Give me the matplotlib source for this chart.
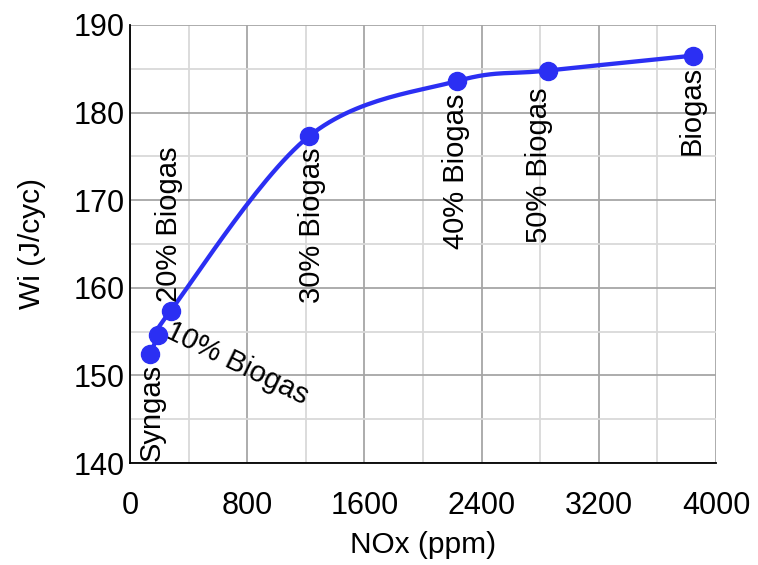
import numpy as np
import matplotlib
matplotlib.use("Agg")
import matplotlib.pyplot as plt
from matplotlib.ticker import MultipleLocator

plt.rcParams['font.family'] = ['Liberation Sans', 'DejaVu Sans']

# Data
labels = ["Syngas", "10% Biogas", "20% Biogas", "30% Biogas", "40% Biogas", "50% Biogas", "Biogas"]
nox = [137, 193, 278, 1222, 2232, 2853, 3843]
wi = [152.4, 154.6, 157.4, 177.3, 183.6, 184.8, 186.5]
x_ticks = [0, 800, 1600, 2400, 3200, 4000]
y_ticks = [140, 150, 160, 170, 180, 190]

color = '#2B2FF3'

def smooth(xs, ys, n=30):
    P = np.column_stack([xs, ys]).astype(float)
    sx, sy = 0.1465, 8.76
    Q = P * [sx, sy]
    pts = []
    for i in range(len(Q) - 1):
        p0 = Q[max(i - 1, 0)]
        p1 = Q[i]
        p2 = Q[i + 1]
        p3 = Q[min(i + 2, len(Q) - 1)]
        c1 = p1 + (p2 - p0) / 6.0
        c2 = p2 - (p3 - p1) / 6.0
        t = np.linspace(0, 1, n)[:, None]
        seg = ((1 - t) ** 3) * p1 + 3 * ((1 - t) ** 2) * t * c1 + 3 * (1 - t) * t ** 2 * c2 + t ** 3 * p2
        pts.append(seg)
    S = np.vstack(pts) / [sx, sy]
    return S[:, 0], S[:, 1]

fig = plt.figure(figsize=(7.58, 5.65), dpi=100)
ax = fig.add_axes([0.1715, 0.1805, 0.7731, 0.7753])

ax.set_xlim(0, 4000)
ax.set_ylim(140, 190)
ax.xaxis.set_minor_locator(MultipleLocator(400))
ax.yaxis.set_minor_locator(MultipleLocator(5))
ax.set_xticks(x_ticks)
ax.set_yticks(y_ticks)
ax.grid(which='major', color='#A6A6A6', linewidth=1.3, zorder=0)
ax.grid(which='minor', color='#D9D9D9', linewidth=1.3, zorder=0)
ax.set_axisbelow(True)
ax.tick_params(which='both', length=0, labelsize=22)
ax.tick_params(axis='x', pad=20)
ax.tick_params(axis='y', pad=4)
for s in ['top', 'right']:
    ax.spines[s].set_visible(False)
for s in ['left', 'bottom']:
    ax.spines[s].set_color('black')
    ax.spines[s].set_linewidth(1.3)

sx_, sy_ = smooth(nox, wi)
ax.plot(sx_, sy_, color=color, linewidth=3.1, zorder=3, clip_on=False)
ax.plot(nox, wi, 'o', color=color, markersize=13, zorder=4, clip_on=False)

ax.set_xlabel("NOx (ppm)", fontsize=21.5, labelpad=7)
ax.set_ylabel("Wi (J/cyc)", fontsize=21.5, labelpad=20)

fs = 21
# annotations
ax.text(nox[0] + 10, wi[0] - 1.1, labels[0], rotation=90, ha='center', va='top', fontsize=fs)
ax.text(nox[1] + 60, wi[1] + 0.6, labels[1], rotation=-26, rotation_mode='anchor',
        ha='left', va='center', fontsize=fs)
ax.text(nox[2] - 15, wi[2] + 1.0, labels[2], rotation=90, ha='center', va='bottom', fontsize=fs)
ax.text(nox[3] + 20, wi[3] - 1.3, labels[3], rotation=90, ha='center', va='top', fontsize=fs)
ax.text(nox[4] - 10, wi[4] - 1.4, labels[4], rotation=90, ha='center', va='top', fontsize=fs)
ax.text(nox[5] - 60, wi[5] - 1.9, labels[5], rotation=90, ha='center', va='top', fontsize=fs)
ax.text(nox[6] - 10, wi[6] - 1.2, labels[6], rotation=90, ha='center', va='top', fontsize=fs)

fig.savefig("out.png", dpi=100)
